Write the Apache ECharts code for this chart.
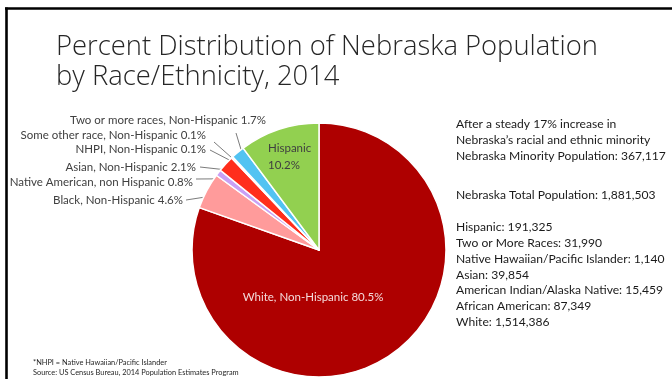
<!DOCTYPE html>
<html>
<head>
<meta charset="utf-8">
<script src="https://cdn.jsdelivr.net/npm/echarts@6/dist/echarts.min.js"></script>
<style>
  html, body { margin: 0; padding: 0; background: #fff; }
  #chart { width: 672px; height: 379px; }
</style>
</head>
<body>
<div id="chart"></div>
<script>
// Share of Nebraska population by race/ethnicity, 2014 (percent)
const categories = [
  'White, Non-Hispanic',
  'Black, Non-Hispanic',
  'Native American, non Hispanic',
  'Asian, Non-Hispanic',
  'NHPI, Non-Hispanic',
  'Some other race, Non-Hispanic',
  'Two or more races, Non-Hispanic',
  'Hispanic'
];
const shares = [80.5, 4.6, 0.8, 2.1, 0.1, 0.1, 1.7, 10.2];
const sliceColors = ['#AE0000', '#FF9B9B', '#C9A0F5', '#FF2E1C', '#7F3FBF', '#FFC000', '#52C3F2', '#92D050'];

// Population counts shown beside the pie
const minorityTotal = '367,117';
const stateTotal = '1,881,503';
const groupNames = ['Hispanic', 'Two or More Races', 'Native Hawaiian/Pacific Islander', 'Asian',
  'American Indian/Alaska Native', 'African American', 'White'];
const groupCounts = ['191,325', '31,990', '1,140', '39,854', '15,459', '87,349', '1,514,386'];

const TEXT_FONT = 'Lato';
const LABEL_SIZE = 11.5;
const SIDE_SIZE = 12.1;

// Where each slice label sits (label anchor point, alignment)
const labelSpots = {
  0: { x: 313, y: 297, align: 'center' },
  1: { x: 183, y: 200, align: 'right' },
  2: { x: 193, y: 182, align: 'right' },
  3: { x: 196, y: 167, align: 'right' },
  4: { x: 206, y: 149, align: 'right' },
  5: { x: 206, y: 135, align: 'right' },
  6: { x: 266, y: 120, align: 'right' },
  7: { x: 268, y: 157, align: 'left' }
};
// Start of each leader line, relative to the label anchor
const lineStarts = {
  1: [3, 0], 2: [3, -3], 3: [4, 0], 4: [4, 1], 5: [8, 7], 6: [-30, 13]
};

const chart = echarts.init(document.getElementById('chart'), null, { renderer: 'canvas' });

const pieData = categories.map((name, i) => {
  const item = { name: name, value: shares[i], itemStyle: { color: sliceColors[i] } };
  if (i === 0) {
    item.label = { color: '#F4DADA', formatter: '{b} {c}%' };
    item.labelLine = { show: false };
  } else if (i === 7) {
    item.label = { color: '#404040', formatter: '{b}\n{c}%', lineHeight: 17 };
    item.labelLine = { show: false };
  }
  return item;
});

const infoLines = [
  'After a steady 17% increase in',
  'Nebraska\u2019s racial and ethnic minority',
  'Nebraska Minority Population: ' + minorityTotal
].join('\n');
const totalLine = 'Nebraska Total Population: ' + stateTotal;
const groupLines = groupNames.map((n, i) => n + ': ' + groupCounts[i]).join('\n');

chart.setOption({
  animation: false,
  backgroundColor: '#ffffff',
  textStyle: { fontFamily: TEXT_FONT },
  graphic: [
    // slide frame
    { type: 'line', shape: { x1: 5, y1: 8.5, x2: 672, y2: 8.5 }, style: { stroke: '#000', lineWidth: 2.6 } },
    { type: 'line', shape: { x1: 6.5, y1: 7.5, x2: 6.5, y2: 379 }, style: { stroke: '#000', lineWidth: 2.6 } },
    {
      type: 'text', left: 56, top: 32,
      style: {
        text: 'Percent Distribution of Nebraska Population\nby Race/Ethnicity, 2014',
        font: '300 27.4px "Open Sans"', fill: '#262626', lineHeight: 30
      }
    },
    {
      type: 'text', left: 456, top: 116,
      style: { text: infoLines, font: SIDE_SIZE + 'px ' + TEXT_FONT, fill: '#1a1a1a', lineHeight: 16 }
    },
    {
      type: 'text', left: 456, top: 187,
      style: { text: totalLine, font: SIDE_SIZE + 'px ' + TEXT_FONT, fill: '#1a1a1a', lineHeight: 16 }
    },
    {
      type: 'text', left: 456, top: 219,
      style: { text: groupLines, font: SIDE_SIZE + 'px ' + TEXT_FONT, fill: '#1a1a1a', lineHeight: 15.9 }
    },
    {
      type: 'text', left: 33, top: 358,
      style: {
        text: '*NHPI = Native Hawaiian/Pacific Islander\nSource: US Census Bureau, 2014 Population Estimates Program',
        font: '7.4px ' + TEXT_FONT, fill: '#262626', lineHeight: 10
      }
    }
  ],
  series: [{
    type: 'pie',
    center: [319, 250],
    radius: 127,
    startAngle: 90,
    clockwise: true,
    avoidLabelOverlap: false,
    itemStyle: { borderColor: '#ffffff', borderWidth: 1.5 },
    label: {
      show: true,
      position: 'outside',
      formatter: '{b} {c}%',
      fontSize: LABEL_SIZE,
      color: '#404040'
    },
    labelLine: { show: true, length: 10, length2: 10, lineStyle: { color: '#595959', width: 0.8 } },
    labelLayout: function (params) {
      const spot = labelSpots[params.dataIndex];
      const out = { x: spot.x, y: spot.y, align: spot.align, verticalAlign: 'middle' };
      const pts = params.labelLinePoints;
      const off = lineStarts[params.dataIndex];
      if (off && pts) {
        // push the slice end of the leader a little into the slice, along the radial direction
        const dx = pts[0][0] - pts[1][0];
        const dy = pts[0][1] - pts[1][1];
        const len = Math.sqrt(dx * dx + dy * dy) || 1;
        const inner = [pts[0][0] + dx / len * 10, pts[0][1] + dy / len * 10];
        out.labelLinePoints = [[spot.x + off[0], spot.y + off[1]], inner, inner];
      }
      return out;
    },
    data: pieData
  }]
});
</script>
</body>
</html>
